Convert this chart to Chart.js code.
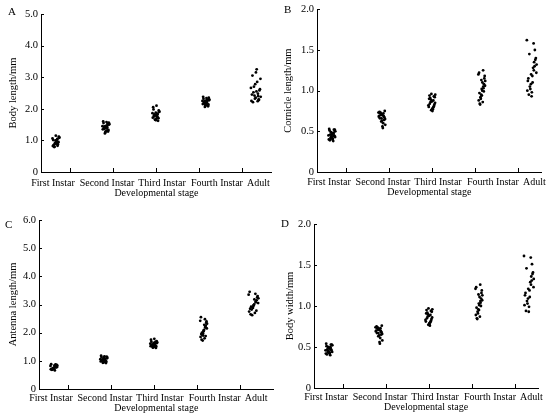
<!DOCTYPE html>
<html>
<head>
<meta charset="utf-8">
<script src="https://cdn.jsdelivr.net/npm/chart.js@4"></script>
<style>
  body { margin: 0; background: #fff; }
  #page { position: relative; width: 550px; height: 418px; }
  .panel { position: absolute; width: 275px; height: 209px; }
  .letter { position: absolute; font: 11px "Liberation Serif", serif; color: #000; }
</style>
</head>
<body>
<div id="page">
  <div class="panel" style="left:0;top:0"><canvas id="chartA"></canvas></div>
  <div class="panel" style="left:275px;top:0"><canvas id="chartB"></canvas></div>
  <div class="panel" style="left:0;top:209px"><canvas id="chartC"></canvas></div>
  <div class="panel" style="left:275px;top:209px"><canvas id="chartD"></canvas></div>
  <div class="letter" style="left:8px;top:5px">A</div>
  <div class="letter" style="left:284px;top:3px">B</div>
  <div class="letter" style="left:5px;top:218px">C</div>
  <div class="letter" style="left:281px;top:217px">D</div>
</div>
<script>
// categories
const stages = ['First Instar', 'Second Instar', 'Third Instar', 'Fourth Instar', 'Adult'];

// horizontal scatter of the dots inside each group (-1..1)
const jitter = [-0.9, 0.4, -0.2, 0.8, -0.6, 0.1, 0.95, -0.4, 0.6, -0.8, 0.25, -0.05,
                0.7, -0.7, 0.35, -0.3, 0.9, -0.5, 0.15, 0.55, -1.0, 0.0, 0.45, -0.15];

// A - body length (mm)
const bodyLength = [
  [0.82,1.05,0.90,1.12,0.86,0.97,1.08,0.80,0.93,1.01,0.88,1.15,0.95,0.84,1.03,0.91,1.10,0.79,0.99,0.87,1.06,0.94,0.83,1.00],
  [1.35,1.48,1.25,1.56,1.40,1.30,1.52,1.44,1.28,1.60,1.38,1.46,1.33,1.55,1.42,1.22,1.50,1.36,1.58,1.31,1.45,1.39,1.53,1.27],
  [1.72,1.85,1.65,1.95,1.78,1.68,1.90,1.82,1.62,2.05,1.75,1.88,1.70,1.98,1.80,1.66,1.92,1.76,2.10,1.73,1.86,1.64,1.83,1.79],
  [2.15,2.28,2.10,2.35,2.20,2.12,2.30,2.24,2.08,2.38,2.18,2.26,2.14,2.32,2.22,2.06,2.27,2.17,2.34,2.11,2.25,2.19,2.29,2.13],
  [2.25,2.48,2.32,2.62,2.21,2.55,2.38,2.70,2.28,2.45,2.85,2.35,2.58,3.05,2.24,2.42,2.95,2.52,3.25,2.30,2.66,3.15,2.40,2.78]
];

// B - cornicle length (mm)
const cornicleLength = [
  [0.40,0.48,0.43,0.52,0.39,0.46,0.50,0.42,0.45,0.53,0.41,0.47,0.44,0.51,0.38,0.49,0.43,0.46,0.40,0.52,0.45,0.42,0.48,0.44],
  [0.68,0.72,0.62,0.75,0.66,0.70,0.58,0.73,0.64,0.69,0.54,0.71,0.67,0.74,0.60,0.70,0.65,0.72,0.56,0.68,0.73,0.63,0.69,0.66],
  [0.80,0.88,0.76,0.92,0.84,0.78,0.95,0.86,0.81,0.90,0.77,0.87,0.83,0.94,0.79,0.89,0.85,0.91,0.75,0.93,0.82,0.87,0.80,0.96],
  [0.88,1.05,0.95,1.18,0.84,1.00,1.12,0.92,1.08,1.22,0.86,1.02,1.15,0.97,1.25,0.90,1.06,0.83,1.10,0.99,1.20,0.94,1.03,1.13],
  [1.00,1.25,1.08,1.40,0.95,1.18,1.32,1.05,1.50,1.12,1.28,0.93,1.38,1.15,1.58,1.02,1.22,1.45,1.10,1.30,1.62,0.98,1.35,1.20]
];

// C - antenna length (mm)
const antennaLength = [
  [0.70,0.80,0.74,0.86,0.68,0.77,0.83,0.72,0.79,0.88,0.66,0.75,0.81,0.71,0.85,0.73,0.78,0.69,0.84,0.76,0.82,0.70,0.87,0.74],
  [0.98,1.08,0.94,1.15,1.02,0.96,1.12,1.05,0.92,1.18,1.00,1.10,0.97,1.14,1.04,0.93,1.09,1.01,1.16,0.99,1.06,1.11,0.95,1.03],
  [1.52,1.62,1.48,1.70,1.56,1.50,1.66,1.58,1.46,1.75,1.54,1.64,1.51,1.68,1.60,1.47,1.63,1.55,1.78,1.53,1.61,1.57,1.67,1.49],
  [1.85,2.20,1.98,2.40,1.75,2.10,2.32,1.92,2.25,2.55,1.80,2.05,2.35,1.95,2.48,1.72,2.15,2.00,2.28,1.88,2.42,2.08,2.18,1.90],
  [2.75,3.10,2.90,3.30,2.65,3.00,3.22,2.82,3.15,3.45,2.70,2.95,3.25,2.85,3.38,2.62,3.05,2.92,3.18,2.78,3.35,2.98,3.08,2.88]
];

// D - body width (mm)
const bodyWidth = [
  [0.42,0.50,0.45,0.53,0.41,0.48,0.52,0.44,0.47,0.54,0.43,0.49,0.46,0.51,0.40,0.50,0.44,0.47,0.42,0.53,0.46,0.43,0.49,0.45],
  [0.69,0.73,0.63,0.76,0.67,0.71,0.58,0.74,0.65,0.70,0.54,0.72,0.68,0.75,0.61,0.71,0.66,0.73,0.56,0.69,0.74,0.64,0.70,0.67],
  [0.81,0.89,0.77,0.93,0.85,0.79,0.96,0.87,0.82,0.91,0.76,0.88,0.84,0.95,0.80,0.90,0.86,0.92,0.77,0.94,0.83,0.88,0.81,0.97],
  [0.89,1.06,0.96,1.19,0.85,1.01,1.13,0.93,1.09,1.23,0.87,1.03,1.16,0.98,1.26,0.91,1.07,0.84,1.11,1.00,1.21,0.95,1.04,1.14],
  [1.01,1.26,1.09,1.41,0.94,1.19,1.33,1.06,1.51,1.13,1.29,0.93,1.39,1.16,1.59,1.03,1.23,1.46,1.11,1.31,1.61,0.99,1.36,1.21]
];

// axis ticks
const yTicksA = [0, 1, 2, 3, 4, 5];
const yTicksB = [0, 0.5, 1, 1.5, 2];
const yTicksC = [0, 1, 2, 3, 4, 5, 6];
const yTicksD = [0, 0.5, 1, 1.5, 2];

// where the category labels and the small x tick marks sit on the x scale
const labelPos = [0.94, 2.02, 3.12, 4.22, 5.05];
const tickMarkPos = [1.28, 2.14, 3.0, 3.86, 4.72];
const groupSpread = [0.07, 0.07, 0.07, 0.07, 0.1];

const FONT = '"Liberation Serif", "Times New Roman", serif';
const PX_PER_GROUP = 50;
const X_MIN = 0.7;

// inward tick marks on both axes
const innerTicks = {
  id: 'innerTicks',
  afterDraw(chart) {
    const ctx = chart.ctx;
    const { left, bottom } = chart.chartArea;
    const xs = chart.scales.x, ys = chart.scales.y;
    ctx.save();
    ctx.strokeStyle = '#000';
    ctx.lineWidth = 1;
    ctx.beginPath();
    tickMarkPos.forEach(v => {
      const px = Math.round(xs.getPixelForValue(v)) + 0.5;
      ctx.moveTo(px, bottom);
      ctx.lineTo(px, bottom - 4);
    });
    ys.ticks.forEach(t => {
      const py = Math.round(ys.getPixelForValue(t.value)) + 0.5;
      ctx.moveTo(left, py);
      ctx.lineTo(left + 3, py);
    });
    ctx.stroke();
    ctx.restore();
  }
};

function makePanel(canvasId, values, yTicks, yTitle, area) {
  const points = [];
  values.forEach((group, g) => {
    group.forEach((v, k) => {
      points.push({ x: g + 1 + jitter[k] * groupSpread[g], y: v });
    });
  });
  const W = 275, H = 209;
  const xMax = X_MIN + (area.right - area.left) / PX_PER_GROUP;
  const yMax = yTicks[yTicks.length - 1];

  new Chart(document.getElementById(canvasId), {
    type: 'scatter',
    data: {
      datasets: [{
        data: points,
        backgroundColor: '#000',
        borderWidth: 0,
        pointRadius: 1.4,
        pointHoverRadius: 1.4
      }]
    },
    options: {
      responsive: true,
      maintainAspectRatio: false,
      animation: false,
      events: [],
      layout: {
        padding: { left: 0, top: area.top, right: W - area.right, bottom: 0 }
      },
      plugins: {
        legend: { display: false },
        tooltip: { enabled: false }
      },
      scales: {
        x: {
          type: 'linear',
          min: X_MIN,
          max: xMax,
          afterBuildTicks: scale => {
            scale.ticks = labelPos.map(v => ({ value: v }));
          },
          afterFit: scale => { scale.height = H - area.bottom; },
          grid: { display: false, drawTicks: false },
          border: { display: true, color: '#000', width: 1 },
          ticks: {
            autoSkip: false,
            maxRotation: 0,
            minRotation: 0,
            padding: area.labelPad,
            color: '#000',
            font: { family: FONT, size: 10 },
            callback: (v, i) => stages[i]
          },
          title: {
            display: true,
            text: 'Developmental stage',
            color: '#000',
            font: { family: FONT, size: 10 },
            padding: { top: 0, bottom: area.xTitlePad }
          }
        },
        y: {
          min: 0,
          max: yMax,
          afterBuildTicks: scale => {
            scale.ticks = yTicks.map(v => ({ value: v }));
          },
          afterFit: scale => { scale.width = area.left; },
          grid: { display: false, drawTicks: false },
          border: { display: true, color: '#000', width: 1 },
          ticks: {
            padding: 3,
            color: '#000',
            font: { family: FONT, size: 10.5 },
            callback: v => (v === 0 ? '0' : v.toFixed(1))
          },
          title: {
            display: true,
            text: yTitle,
            color: '#000',
            font: { family: FONT, size: 10.5 },
            padding: { top: area.titlePad, bottom: 0 }
          }
        }
      }
    },
    plugins: [innerTicks]
  });
}

makePanel('chartA', bodyLength, yTicksA, 'Body length/mm',
  { left: 41, top: 14, right: 272, bottom: 172, titlePad: 7, labelPad: 5, xTitlePad: 10 });
makePanel('chartB', cornicleLength, yTicksB, 'Cornicle length/mm',
  { left: 42, top: 7, right: 267, bottom: 172, titlePad: 7, labelPad: 4, xTitlePad: 11 });
makePanel('chartC', antennaLength, yTicksC, 'Antenna length/mm',
  { left: 39, top: 11, right: 274, bottom: 180, titlePad: 7, labelPad: 3, xTitlePad: 4 });
makePanel('chartD', bodyWidth, yTicksD, 'Body width/mm',
  { left: 39, top: 15, right: 263, bottom: 179, titlePad: 9, labelPad: 3, xTitlePad: 5 });
</script>
</body>
</html>
